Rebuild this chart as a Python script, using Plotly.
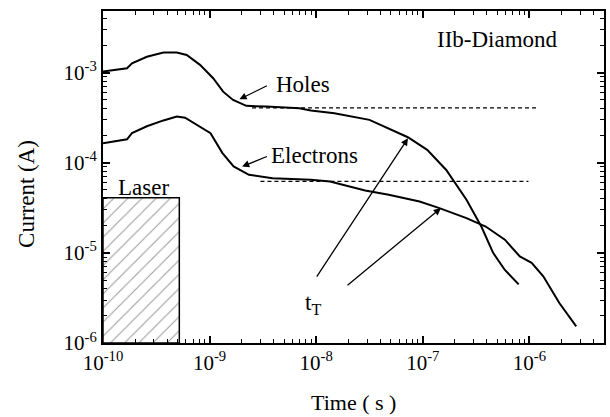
import plotly.graph_objects as go

# Transient photocurrent in IIb diamond (time in s, current in A)
holes_t = [1.0e-10, 1.68e-10, 1.87e-10, 2.58e-10, 3.69e-10, 4.92e-10, 6.10e-10, 8.13e-10,
           1.08e-9, 1.34e-9, 1.66e-9, 2.21e-9, 3.40e-9, 6.95e-9, 8.91e-9, 1.48e-8, 3.16e-8,
           7.24e-8, 1.10e-7, 1.66e-7, 2.57e-7, 3.55e-7, 4.57e-7, 5.89e-7, 7.94e-7]
holes_i = [1.03e-3, 1.12e-3, 1.27e-3, 1.50e-3, 1.67e-3, 1.67e-3, 1.57e-3, 1.22e-3,
           8.67e-4, 6.15e-4, 4.98e-4, 4.28e-4, 4.20e-4, 4.03e-4, 3.80e-4, 3.55e-4, 2.99e-4,
           1.92e-4, 1.39e-4, 8.32e-5, 3.89e-5, 1.95e-5, 1.0e-5, 6.46e-6, 4.47e-6]

elec_t = [1.0e-10, 1.68e-10, 1.87e-10, 2.58e-10, 3.69e-10, 4.92e-10, 5.89e-10, 8.13e-10,
          1.02e-9, 1.32e-9, 1.68e-9, 2.34e-9, 3.89e-9, 8.91e-9, 1.35e-8, 2.88e-8, 4.79e-8,
          9.33e-8, 1.41e-7, 2.57e-7, 3.89e-7, 5.89e-7, 8.13e-7, 1.05e-6, 1.35e-6, 1.91e-6,
          2.75e-6]
elec_i = [1.65e-4, 1.82e-4, 2.13e-4, 2.54e-4, 2.95e-4, 3.25e-4, 3.16e-4, 2.51e-4,
          2.13e-4, 1.28e-4, 9.12e-5, 7.35e-5, 6.75e-5, 6.46e-5, 6.19e-5, 4.92e-5, 4.41e-5,
          3.72e-5, 3.16e-5, 2.43e-5, 1.96e-5, 1.40e-5, 9.12e-6, 7.76e-6, 5.50e-6, 2.78e-6,
          1.53e-6]

# Constant-current plateaus
holes_plateau_t = [2.5e-9, 1.16e-6]
holes_plateau_i = [4.07e-4, 4.07e-4]
elec_plateau_t = [3.0e-9, 9.8e-7]
elec_plateau_i = [6.2e-5, 6.2e-5]

# Laser pulse window
laser_t = [1.0e-10, 5.2e-10]
laser_i = [1.0e-6, 4.1e-5]

x_tick_vals = [1e-10, 1e-9, 1e-8, 1e-7, 1e-6]
x_tick_text = ["10<sup>-10</sup>", "10<sup>-9</sup>", "10<sup>-8</sup>", "10<sup>-7</sup>", "10<sup>-6</sup>"]
y_tick_vals = [1e-6, 1e-5, 1e-4, 1e-3]
y_tick_text = ["10<sup>-6</sup>", "10<sup>-5</sup>", "10<sup>-4</sup>", "10<sup>-3</sup>"]

x_minor = [m * 10.0 ** e for e in range(-10, -5) for m in range(2, 10)]
y_minor = [m * 10.0 ** e for e in range(-6, -2) for m in range(2, 10)]

FONT = "Liberation Serif"

fig = go.Figure()

fig.add_trace(go.Scatter(
    x=[laser_t[0], laser_t[1], laser_t[1], laser_t[0], laser_t[0]],
    y=[laser_i[0], laser_i[0], laser_i[1], laser_i[1], laser_i[0]],
    mode="lines", fill="toself", fillcolor="white",
    fillpattern=dict(shape="/", size=10, solidity=0.1, fgcolor="#333", bgcolor="white"),
    line=dict(color="black", width=1.5), hoverinfo="skip"))

for tt, ii in [(holes_plateau_t, holes_plateau_i), (elec_plateau_t, elec_plateau_i)]:
    fig.add_trace(go.Scatter(x=tt, y=ii, mode="lines",
                             line=dict(color="black", width=1.2, dash="4px,3px")))

fig.add_trace(go.Scatter(x=holes_t, y=holes_i, mode="lines",
                         line=dict(color="black", width=2)))
fig.add_trace(go.Scatter(x=elec_t, y=elec_i, mode="lines",
                         line=dict(color="black", width=2)))

# Pointer arrows (annotation positions are log10 values on log axes)
arrows = [
    # (head_x, head_y, tail_x, tail_y)
    (-8.72, -3.296, -8.448, -3.137),
    (-8.695, -4.042, -8.448, -3.924),
    (-7.139, -3.728, -8.004, -5.279),
    (-6.83, -4.503, -7.72, -5.372),
]
for hx, hy, tx, ty in arrows:
    fig.add_annotation(x=hx, y=hy, ax=tx, ay=ty, xref="x", yref="y", axref="x", ayref="y",
                       showarrow=True, arrowhead=2, arrowsize=1.1, arrowwidth=1.3,
                       arrowcolor="black", text="")

labels = [
    ("Holes", -8.40, -3.137, "left"),
    ("Electrons", -8.44, -3.924, "left"),
    ("t<sub>T</sub>", -8.03, -5.57, "center"),
    ("Laser", -9.62, -4.27, "center"),
    ("IIb-Diamond", -6.30, -2.637, "center"),
]
for txt, lx, ly, anchor in labels:
    fig.add_annotation(x=lx, y=ly, xref="x", yref="y", text=txt, showarrow=False,
                       xanchor=anchor, yanchor="middle",
                       font=dict(family=FONT, size=23, color="black"))

fig.add_annotation(x=-0.153, y=0.45, xref="paper", yref="paper", text="Current (A)",
                   showarrow=False, textangle=-90, xanchor="center", yanchor="middle",
                   font=dict(family=FONT, size=23, color="black"))
fig.add_annotation(x=0.5, y=-0.18, xref="paper", yref="paper", text="Time ( s )",
                   showarrow=False, xanchor="center", yanchor="middle",
                   font=dict(family=FONT, size=22, color="black"))

axis_common = dict(showgrid=False, zeroline=False, showline=True, linecolor="black",
                   linewidth=2, mirror="ticks", ticks="inside", ticklen=7, tickwidth=1.5,
                   tickcolor="black", tickfont=dict(family=FONT, size=21, color="black"))

fig.update_xaxes(type="log", range=[-10, -5.30], tickvals=x_tick_vals, ticktext=x_tick_text,
                 minor=dict(tickvals=x_minor, ticks="inside", ticklen=4, tickwidth=1.2,
                            tickcolor="black"),
                 **axis_common)
fig.update_yaxes(type="log", range=[-6, -2.316], tickvals=y_tick_vals, ticktext=y_tick_text,
                 minor=dict(tickvals=y_minor, ticks="inside", ticklen=4, tickwidth=1.2,
                            tickcolor="black"),
                 **axis_common)

fig.update_layout(width=610, height=417, margin=dict(l=103, r=4, t=11, b=74),
                  plot_bgcolor="white", paper_bgcolor="white", showlegend=False,
                  font=dict(family=FONT, color="black"))

fig.write_html("out.html")
